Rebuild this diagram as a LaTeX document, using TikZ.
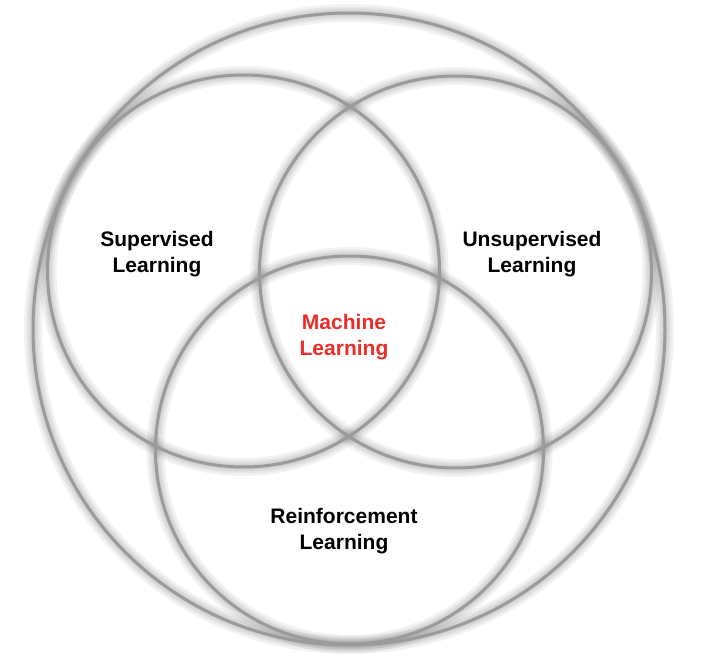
\documentclass[tikz,border=0pt]{standalone}
\usepackage{fontspec}
\setmainfont{Liberation Sans}
\usepackage{tikz}
\usetikzlibrary{
  calc,        % 坐标计算
  positioning  % 节点相对定位
}

\definecolor{ringgray}{RGB}{155,155,155}
\definecolor{mlred}{RGB}{235,45,40}

\tikzset{
  ring/.style={draw=ringgray, line width=3pt},
  ringshadow/.style={draw=black, opacity=0.05, line width=#1},
  lbl/.style={font=\bfseries\fontsize{21}{25.5}\selectfont, align=center, text=black}
}

\begin{document}
\begin{tikzpicture}[x=1pt, y=-1pt]

  % 画布大小（与参考图比例一致）
  \useasboundingbox (0,0) rectangle (702,669);

  % =============== 圆心与半径 ===============
  \coordinate (oall) at (349,329);
  \coordinate (osup) at (243.5,271);
  \coordinate (ouns) at (455.5,272);
  \coordinate (orei) at (349.5,450);

  % =============== 阴影（向下偏移的模糊描边） ===============
  \foreach \w in {18,13,9,5} {
    \begin{scope}[yshift=-7pt]
      \path[ringshadow=\w pt] (oall) circle[radius=316];
      \path[ringshadow=\w pt] (osup) circle[radius=196];
      \path[ringshadow=\w pt] (ouns) circle[radius=196];
      \path[ringshadow=\w pt] (orei) circle[radius=194];
    \end{scope}
  }

  % =============== 四个圆 ===============
  \draw[ring] (oall) circle[radius=316];
  \draw[ring] (osup) circle[radius=196];
  \draw[ring] (ouns) circle[radius=196];
  \draw[ring] (orei) circle[radius=194];

  % =============== 文字 ===============
  \node[lbl] (sup) at (157,254) {Supervised\\Learning};
  \node[lbl] (uns) at (532,254) {Unsupervised\\Learning};
  \node[lbl, text=mlred] (ml) at (344,337) {Machine\\Learning};
  \node[lbl] (rei) at (344,531) {Reinforcement\\Learning};

\end{tikzpicture}
\end{document}
